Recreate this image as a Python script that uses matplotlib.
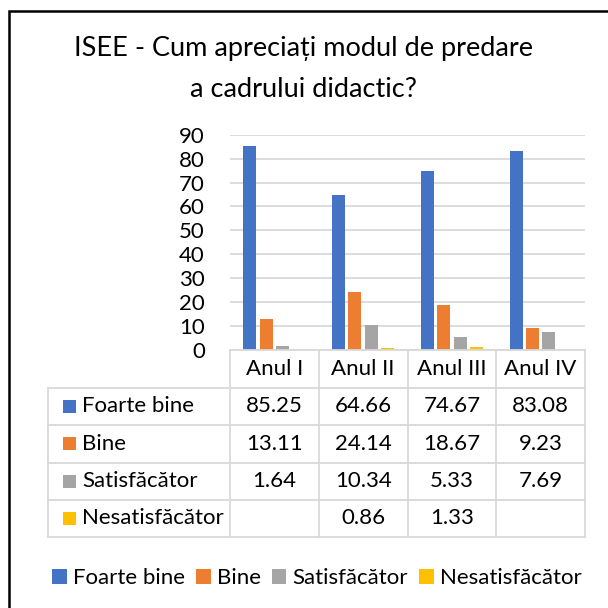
import matplotlib
matplotlib.use('Agg')
import matplotlib.pyplot as plt
import numpy as np
from matplotlib.patches import Rectangle
from matplotlib.lines import Line2D

# ---------------- data ----------------
categories = ['Anul I', 'Anul II', 'Anul III', 'Anul IV']
series_names = ['Foarte bine', 'Bine', 'Satisfăcător', 'Nesatisfăcător']
foarte_bine = [85.25, 64.66, 74.67, 83.08]
bine = [13.11, 24.14, 18.67, 9.23]
satisfacator = [1.64, 10.34, 5.33, 7.69]
nesatisfacator = [None, 0.86, 1.33, None]
yticks = [0, 10, 20, 30, 40, 50, 60, 70, 80, 90]
title = 'ISEE - Cum apreciați modul de predare\na cadrului didactic?'

series = [foarte_bine, bine, satisfacator, nesatisfacator]
colors = ['#4472C4', '#ED7D31', '#A5A5A5', '#FFC000']

plt.rcParams['font.family'] = ['Lato', 'DejaVu Sans']
TXT = '#000000'
GRID = '#D9D9D9'
FS = 16

W = H = 608
fig = plt.figure(figsize=(6.08, 6.08), dpi=100)

def fx(x):
    return x / W

def fy(y):
    return 1 - y / H

# outer frame (cropped at right/bottom)
fig.patches.append(Rectangle((fx(9), fy(700)), fx(700), fy(11) - fy(700),
                             transform=fig.transFigure, fill=False,
                             edgecolor='#000000', linewidth=1.8))

# title
fig.text(fx(304), fy(69), title, ha='center', va='center', fontsize=19.5,
         color=TXT, linespacing=1.78)

# plot area
x_left, x_right = 230, 585
y_top, y_zero = 134.7, 350
ax = fig.add_axes([fx(x_left), fy(y_zero), fx(x_right - x_left), fy(y_top) - fy(y_zero)])
ax.set_ylim(0, 90)
ax.set_xlim(-0.5, len(categories) - 0.5)
ax.set_yticks(yticks)
ax.set_yticklabels([str(t) for t in yticks], fontsize=FS, color=TXT)
ax.set_xticks([])
ax.tick_params(axis='y', length=0, pad=18)
for s in ax.spines.values():
    s.set_visible(False)
ax.yaxis.grid(True, color=GRID, linewidth=1.3)
ax.set_axisbelow(True)

x = np.arange(len(categories))
step = 0.184
bw = 0.146
for i, (vals, c) in enumerate(zip(series, colors)):
    v = np.array([np.nan if a is None else a for a in vals], dtype=float)
    ax.bar(x + (i - 1.5) * step, v, width=bw, color=c, edgecolor='none', zorder=3)

# ---------------- data table ----------------
col_edges = np.linspace(x_left, x_right, len(categories) + 1)
row_edges = [350, 388, 425, 462.5, 500, 537]
tl = 48
lw = 1.3

def hline(y, x0, x1):
    fig.add_artist(Line2D([fx(x0), fx(x1)], [fy(y), fy(y)], transform=fig.transFigure,
                          color=GRID, linewidth=lw))

def vline(xp, y0, y1):
    fig.add_artist(Line2D([fx(xp), fx(xp)], [fy(y0), fy(y1)], transform=fig.transFigure,
                          color=GRID, linewidth=lw))

hline(row_edges[0], x_left, x_right)
for y in row_edges[1:]:
    hline(y, tl, x_right)
for xp in col_edges:
    vline(xp, row_edges[0], row_edges[-1])
vline(tl, row_edges[1], row_edges[-1])

# header
for j, cat in enumerate(categories):
    cx = (col_edges[j] + col_edges[j + 1]) / 2
    cy = (row_edges[0] + row_edges[1]) / 2
    fig.text(fx(cx), fy(cy), cat, ha='center', va='center', fontsize=FS, color=TXT)

for i, (name, vals, c) in enumerate(zip(series_names, series, colors)):
    cy = (row_edges[i + 1] + row_edges[i + 2]) / 2
    fig.patches.append(Rectangle((fx(63), fy(cy + 6.5)), fx(13), fy(cy - 6.5) - fy(cy + 6.5),
                                 transform=fig.transFigure, facecolor=c, edgecolor='none'))
    fig.text(fx(82), fy(cy), name, ha='left', va='center', fontsize=FS, color=TXT)
    for j, v in enumerate(vals):
        if v is None:
            continue
        cx = (col_edges[j] + col_edges[j + 1]) / 2
        fig.text(fx(cx), fy(cy), f'{v:.2f}', ha='center', va='center', fontsize=FS, color=TXT)

# ---------------- legend ----------------
handles = [Rectangle((0, 0), 1, 1, facecolor=c, edgecolor='none') for c in colors]
fig.legend(handles, series_names, loc='center', bbox_to_anchor=(fx(317), fy(578)),
           ncol=4, frameon=False, fontsize=FS, handlelength=0.65, handleheight=0.65,
           handletextpad=0.28, columnspacing=0.5, borderaxespad=0, borderpad=0)

fig.savefig('out.png', dpi=100)
